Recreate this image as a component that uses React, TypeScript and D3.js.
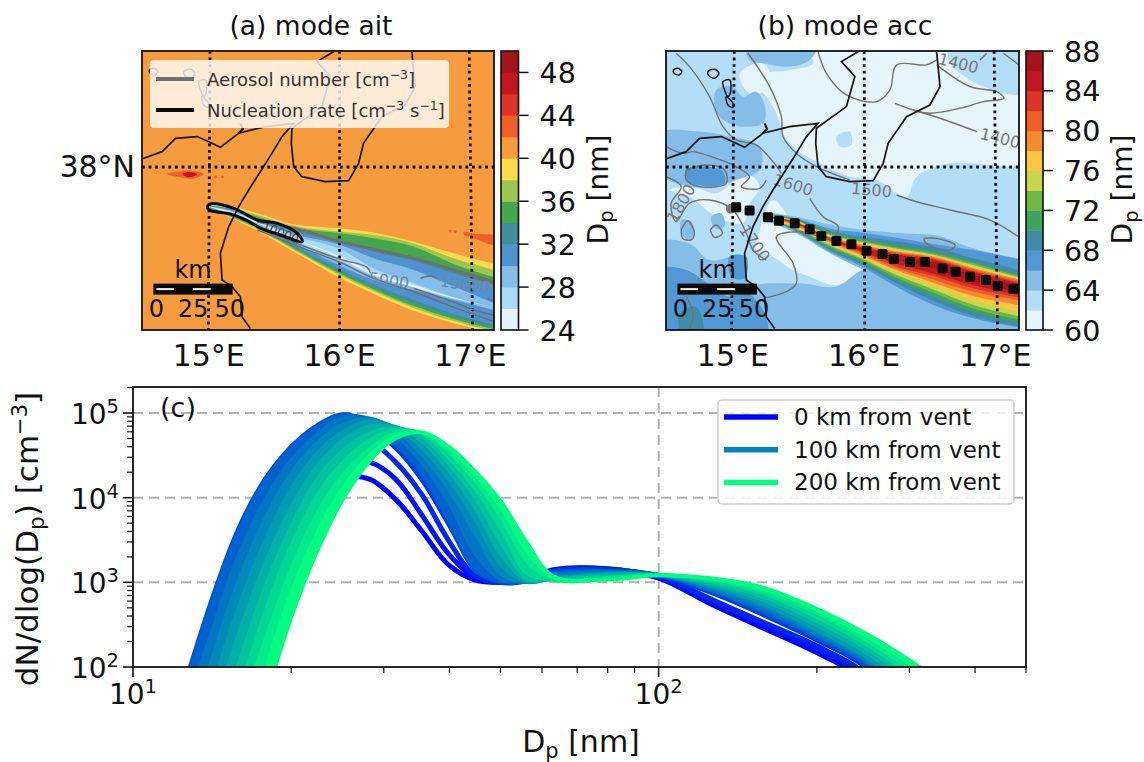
import React from 'react';
import * as d3 from 'd3';

const FONT = '"DejaVu Sans", sans-serif';

// --- maps: shared geography, lon / lat
const lonDomain = [14.49, 17.18];
const latDomain = [36.756, 38.885];
const meridians = [15, 16, 17];
const parallels = [38];

const sicilyCoast = [[14.483,38.059],[14.644,38.117],[14.746,38.219],[14.911,38.232],[15.0,38.193],[15.089,38.15],[15.229,38.257],[15.433,38.308],[15.649,38.333],[15.56,38.232],[15.483,38.104],[15.394,37.964],[15.305,37.824],[15.229,37.697],[15.153,37.545],[15.089,37.341],[15.102,37.137],[15.178,37.087],[15.242,37.01],[15.254,36.857],[15.318,36.768]];
const calabriaCoast = [[15.954,38.88],[15.827,38.804],[15.929,38.69],[15.865,38.461],[15.636,38.295],[15.631,38.181],[15.649,38.003],[15.712,37.926],[15.891,37.888],[16.069,37.896],[16.145,38.028],[16.183,38.181],[16.323,38.384],[16.501,38.473],[16.578,38.613],[16.552,38.88]];
const milazzo = [[15.242,38.333],[15.26,38.29],[15.229,38.257]];
const islands = [
  [[14.547,38.74],[14.58,38.753],[14.611,38.728],[14.588,38.702],[14.552,38.715]],
  [[14.809,38.728],[14.86,38.746],[14.893,38.715],[14.86,38.677],[14.817,38.697]],
  [[14.924,38.651],[14.975,38.664],[14.982,38.575],[14.962,38.537],[14.936,38.588]],
  [[14.949,38.537],[15,38.486],[15,38.455],[14.962,38.473]],
];

// --- panel (a)
const levelsA = [24,26,28,30,32,34,36,38,40,42,44,46,48,50];
const ticksA = [24,28,32,36,40,44,48];
const colorsA = ['#e3f2fb','#abdaf5','#84bde8','#4e92d0','#3f8f9c','#43a84c','#9cc650','#fbdb4a','#f69c3e','#ef5f28','#dd3428','#c4161f','#a3141a'];

const plumeLonA = [15.015,15.193,15.372,15.651,16.008,16.262,16.567,16.873,17.183];
const yellowUpA = [37.712,37.697,37.646,37.562,37.532,37.499,37.43,37.341,37.26];
const yellowLoA = [37.677,37.601,37.514,37.354,37.15,37.031,36.903,36.807,36.73];
const lgreenUpA = [37.707,37.684,37.634,37.552,37.506,37.481,37.417,37.303,37.214];
const lgreenLoA = [37.679,37.606,37.524,37.366,37.17,37.051,36.924,36.824,36.746];
const greenUpA = [37.705,37.677,37.621,37.539,37.494,37.456,37.392,37.26,37.158];
const greenLoA = [37.682,37.611,37.534,37.377,37.183,37.066,36.939,36.84,36.761];
const tealUpA = [37.702,37.672,37.608,37.519,37.443,37.372,37.303,37.214,37.137];
const tealLoA = [37.684,37.616,37.545,37.387,37.198,37.081,36.959,36.858,36.776];
const blueUpA = [37.7,37.667,37.601,37.506,37.43,37.354,37.285,37.188,37.099];
const blueLoA = [37.687,37.621,37.55,37.397,37.214,37.099,36.985,36.878,36.794];
const mediumUpA = [37.697,37.662,37.59,37.489,37.405,37.303,37.214,37.087,36.959];
const mediumLoA = [37.69,37.626,37.557,37.422,37.244,37.137,37.061,36.985,36.908];
const lightUpA = [37.695,37.656,37.583,37.476,37.372,37.226,37.112,37.005,36.929];
const lightLoA = [37.692,37.636,37.57,37.438,37.285,37.168,37.081,36.995,36.929];
const paleUpA = [37.694,37.651,37.578,37.456,37.316,37.193,37.099,37.003,36.929];
const paleLoA = [37.693,37.639,37.573,37.448,37.303,37.173,37.084,36.998,36.929];

const redBlobWest = [[14.677,37.947],[14.761,37.964],[14.863,37.972],[14.964,37.95],[14.888,37.913],[14.761,37.925]];
const darkBlobWest = [[14.799,37.947],[14.85,37.962],[14.913,37.944],[14.85,37.921]];
const redBlobEast = [[16.95,37.505],[17.03,37.49],[17.2,37.47],[17.2,37.405],[17.03,37.455],[16.95,37.485]];
const speckLon = [15.053,15.104,16.847,16.885];
const speckLat = [37.926,37.926,37.511,37.508];

const aerosolThick = [[15.372,37.583],[15.651,37.532],[16.008,37.43],[16.567,37.303],[16.873,37.214],[17.183,37.112]];
const aerosolLinesA = [
  [[15.372,37.545],[15.702,37.405],[16.008,37.295],[16.211,37.234],[16.237,37.188]],
  [[16.618,37.15],[16.695,37.168],[16.746,37.15]],
  [[15.372,37.519],[15.702,37.387],[16.008,37.27],[16.262,37.15],[16.567,37.048],[16.873,36.929],[17.183,36.819]],
  [[16.567,37.074],[16.873,36.969],[17.025,36.908],[17.183,36.868]],
  [[16.975,37.193],[17.183,37.125]],
  [[17.127,37.0],[17.183,36.975]],
];
const nucleationContour = [[15.015,37.718],[15.193,37.684],[15.372,37.595],[15.524,37.57],[15.677,37.494],[15.715,37.43],[15.55,37.481],[15.397,37.532],[15.295,37.59],[15.168,37.641],[15.015,37.667],[14.99,37.692]];
const labelsA = [
  { text: '5000', lon: 16.377, lat: 37.132, rotate: 8, color: '#6f8aa5', size: 16 },
  { text: '15000', lon: 16.962, lat: 37.104, rotate: 8, color: '#6f8aa5', size: 16 },
  { text: '10000', lon: 15.55, lat: 37.499, rotate: 22, color: '#444', size: 12 },
];

// --- panel (b)
const levelsB = [60,62,64,66,68,70,72,74,76,78,80,82,84,86,88];
const ticksB = [60,64,68,72,76,80,84,88];
const colorsB = ['#e6f4fc','#b4def7','#84bde8','#5198d4','#3f8ca8','#3fa35c','#6cb944','#c6d64e','#fbc640','#f68a30','#ee5f28','#dd3428','#c4161f','#a3141a'];

const palePatchesB = [
  [[15.55,38.96],[16.6,38.96],[16.654,38.791],[16.807,38.664],[17.01,38.575],[17.25,38.499],[17.25,38.041],[16.654,38.028],[16.399,37.926],[16.323,37.774],[16.094,37.901],[15.891,37.926],[15.636,38.041],[15.458,38.155],[15.382,38.257],[15.331,38.41],[15.254,38.537],[15.127,38.69],[15.433,38.74],[15.611,38.791]],
  [[15.204,37.519],[15.305,37.748],[15.483,37.545],[15.687,37.392],[15.992,37.226],[15.789,37.099],[15.585,37.163],[15.433,37.226],[15.305,37.316],[15.178,37.366]],
  [[14.517,37.824],[14.695,37.85],[14.873,37.799],[15.102,37.952],[15.204,37.85],[15.127,37.723],[15.076,37.57],[14.873,37.621],[14.669,37.774]],
  [[15.051,38.715],[15.229,38.791],[15.305,38.613],[15.127,38.562]],
];
const lightPatchesB = [
  [[15.789,38.232],[15.891,38.27],[15.903,38.168],[15.814,38.155]],
];
const mediumPatchesB = [
  [[15.102,38.95],[15.65,38.95],[15.585,38.817],[15.433,38.766],[15.229,38.791],[15.127,38.817]],
  [[14.873,38.422],[15,38.321],[15.229,38.333],[15.242,38.473],[15.178,38.575],[15.076,38.537],[15,38.613],[14.873,38.587]],
  [[14.44,38.257],[14.746,38.27],[14.975,38.232],[15.204,38.155],[15.204,37.977],[15.025,37.901],[14.873,37.85],[14.669,37.85],[14.44,37.952]],
  [[14.44,37.417],[14.669,37.417],[14.822,37.29],[15.076,37.316],[15.127,37.112],[15.254,37.036],[15.433,36.7],[14.44,36.7]],
  [[14.835,37.621],[14.911,37.646],[14.936,37.545],[14.86,37.532]],
  [[14.606,37.595],[14.682,37.583],[14.707,37.468],[14.656,37.443],[14.606,37.494]],
  [[15.102,37.061],[15.483,37.112],[15.789,37.087],[15.992,37.214],[16.298,37.188],[17.25,36.858],[17.25,36.7],[15.305,36.7]],
];
const bluePatchesB = [
  [[14.644,37.977],[14.796,38.003],[14.924,37.964],[14.936,37.875],[14.746,37.86],[14.644,37.901]],
  [[14.44,37.214],[14.644,37.214],[14.975,37.01],[15.076,37.061],[15.229,36.908],[15.254,36.7],[14.44,36.7]],
  [[14.975,37.316],[15.102,37.316],[15.089,37.15],[14.987,37.163]],
];
const tealPatchB = [[14.593,36.883],[14.72,36.934],[14.771,36.7],[14.618,36.7]];

const plumeLonB = [15.229,15.483,15.763,15.992,16.221,16.527,16.832,17.176];
const mediumUpB = [37.659,37.621,37.557,37.519,37.499,37.481,37.379,37.303];
const mediumLoB = [37.595,37.494,37.328,37.214,37.07,36.921,36.82,36.761];
const blueUpB = [37.651,37.608,37.524,37.499,37.463,37.412,37.366,37.295];
const blueLoB = [37.608,37.506,37.341,37.234,37.099,36.947,36.845,36.776];
const tealUpB = [37.646,37.601,37.506,37.468,37.438,37.387,37.303,37.214];
const tealLoB = [37.613,37.514,37.354,37.252,37.125,36.98,36.863,36.786];
const greenUpB = [37.644,37.595,37.494,37.448,37.405,37.354,37.277,37.176];
const greenLoB = [37.616,37.519,37.366,37.27,37.15,37.015,36.896,36.812];
const lgreenUpB = [37.641,37.59,37.481,37.435,37.392,37.341,37.265,37.168];
const lgreenLoB = [37.618,37.524,37.379,37.285,37.168,37.041,36.921,36.837];
const ygreenUpB = [37.639,37.588,37.473,37.425,37.382,37.331,37.252,37.158];
const ygreenLoB = [37.621,37.532,37.392,37.298,37.188,37.066,36.947,36.863];
const amberUpB = [37.636,37.583,37.466,37.417,37.372,37.323,37.239,37.15];
const amberLoB = [37.623,37.539,37.402,37.308,37.206,37.092,36.985,36.896];
const orangeUpB = [37.634,37.58,37.458,37.407,37.361,37.316,37.229,37.142];
const orangeLoB = [37.626,37.55,37.412,37.321,37.221,37.117,37.015,36.947];
const dkorUpB = [37.631,37.578,37.453,37.397,37.354,37.308,37.219,37.132];
const dkorLoB = [37.628,37.557,37.422,37.333,37.234,37.142,37.048,36.985];
const redUpB = [37.631,37.575,37.448,37.387,37.346,37.3,37.209,37.122];
const redLoB = [37.631,37.565,37.43,37.346,37.249,37.168,37.074,37.005];
const red2UpB = [37.631,37.573,37.443,37.379,37.336,37.29,37.196,37.112];
const red2LoB = [37.631,37.567,37.438,37.356,37.27,37.188,37.099,37.023];
const darkUpB = [37.631,37.57,37.44,37.366,37.303,37.27,37.176,37.097];
const darkLoB = [37.631,37.57,37.44,37.366,37.298,37.226,37.132,37.048];

const aerosolLinesB = [
  [[16.234,38.486],[16.374,38.435],[16.578,38.372],[16.858,38.27]],
  [[15.649,38.88],[15.712,38.715],[15.865,38.55],[16.094,38.499],[16.196,38.588],[16.247,38.779],[16.476,38.779],[16.552,38.817]],
  [[16.552,38.779],[16.807,38.613],[17.01,38.575],[17.066,38.524],[16.908,38.499],[16.73,38.448],[16.501,38.41],[16.374,38.435]],
  [[17.061,38.868],[17.181,38.779]],
  [[16.883,38.817],[16.934,38.868]],
  [[16.247,37.786],[16.399,37.735],[16.654,37.672],[16.959,37.595],[17.176,37.468]],
  [[15.891,37.901],[15.636,38.003],[15.483,38.104],[15.382,38.232],[15.369,38.384],[15.28,38.613],[15.115,38.868]],
  [[15.585,37.761],[15.687,37.621],[15.802,37.545],[15.763,37.455],[15.509,37.506],[15.331,37.468],[15.458,37.265],[15.483,37.112],[15.407,37.048],[15.229,36.997]],
  [[14.567,38.868],[14.669,38.766],[14.822,38.537],[14.924,38.308],[15.025,38.206],[15.178,38.168],[15.305,38.041],[15.369,37.952]],
  [[14.491,38.155],[14.618,38.104],[14.695,38.117],[14.873,38.066],[15,38.015],[15.127,37.926],[15.064,37.85],[15.204,37.837],[15.254,37.901]],
  [[14.491,37.926],[14.606,37.85],[14.529,37.723],[14.567,37.583],[14.669,37.723],[14.822,37.748],[15,37.672],[15.102,37.494],[15.153,37.366],[15.254,37.29]],
  [[14.606,37.519],[14.656,37.59],[14.707,37.494],[14.682,37.443],[14.618,37.455],[14.606,37.519]],
  [[14.827,37.519],[14.873,37.557],[14.919,37.494],[14.86,37.463],[14.827,37.519]],
  [[14.644,37.977],[14.796,38.015],[14.936,37.977],[14.949,37.875],[14.746,37.85],[14.644,37.901],[14.644,37.977]],
  [[14.644,37.01],[14.695,36.883],[14.669,36.756]],
  [[16.455,37.455],[16.552,37.455],[16.692,37.405],[16.667,37.372],[16.552,37.379],[16.463,37.43],[16.455,37.455]],
];
const labelsB = [
  { text: '1400', lon: 16.718, lat: 38.791, rotate: 14, color: '#777', size: 16 },
  { text: '1400', lon: 17.036, lat: 38.219, rotate: 14, color: '#777', size: 16 },
  { text: '1500', lon: 16.056, lat: 37.824, rotate: 5, color: '#777', size: 16 },
  { text: '1600', lon: 15.458, lat: 37.863, rotate: 17, color: '#777', size: 16 },
  { text: '1700', lon: 15.165, lat: 37.417, rotate: 55, color: '#777', size: 16 },
  { text: '1800', lon: 14.606, lat: 37.723, rotate: -60, color: '#777', size: 16 },
];
const trackLon = [15.025,15.127,15.267,15.351,15.471,15.585,15.674,15.789,15.903,16.018,16.14,16.226,16.349,16.463,16.598,16.697,16.807,16.929,17.018,17.137];
const trackLat = [37.692,37.667,37.616,37.59,37.57,37.524,37.473,37.435,37.41,37.361,37.336,37.298,37.275,37.275,37.226,37.201,37.163,37.137,37.092,37.071];

const scaleBarKm = [0, 25, 50];

// --- panel (c)
const diameters = [12.6,14.1,15.8,17.8,20,22.4,25.1,28.2,31.6,35.5,39.8,44.7,50.1,56.2,63.1,79.4,100,126,158,200,251,316];
// log10 of dN/dlog(Dp), one row per distance from the vent
const logSpectra = [
  [1.0,1.95,2.8,3.4,3.85,4.12,4.24,4.22,3.98,3.6,3.21,3.03,3.0,3.04,3.15,3.16,3.05,2.74,2.46,2.17,1.8,0.9],
  [0.9,1.85,2.75,3.45,3.98,4.25,4.42,4.42,4.22,3.79,3.34,3.06,3.0,3.03,3.14,3.16,3.06,2.77,2.5,2.21,1.84,0.92],
  [0.8,1.75,2.7,3.5,4.05,4.4,4.55,4.65,4.42,4.03,3.5,3.08,3.0,3.03,3.13,3.15,3.07,2.8,2.53,2.25,1.88,0.95],
  [0.9,1.9,2.85,3.65,4.25,4.58,4.72,4.8,4.59,4.21,3.7,3.18,3.0,3.02,3.13,3.15,3.08,2.88,2.62,2.32,1.97,1.2],
  [1.85,2.8,3.62,4.22,4.61,4.86,4.99,4.88,4.62,4.26,3.72,3.14,3.0,3.02,3.12,3.14,3.09,2.89,2.64,2.34,2.0,1.25],
  [1.5,2.46,3.33,4.0,4.47,4.77,4.96,4.93,4.72,4.38,3.92,3.32,3.02,3.01,3.1,3.13,3.09,2.9,2.67,2.36,2.02,1.3],
  [1.16,2.13,3.03,3.78,4.32,4.67,4.88,4.94,4.78,4.48,4.08,3.55,3.08,3.0,3.08,3.12,3.09,2.92,2.7,2.39,2.05,1.45],
  [0.8,1.78,2.72,3.52,4.14,4.55,4.8,4.92,4.82,4.56,4.2,3.72,3.18,3.0,3.06,3.11,3.09,2.94,2.73,2.42,2.08,1.55],
  [0.45,1.43,2.4,3.25,3.92,4.4,4.7,4.86,4.84,4.64,4.3,3.85,3.3,3.01,3.05,3.1,3.09,2.96,2.77,2.47,2.13,1.65],
  [0.1,1.1,2.05,2.98,3.7,4.25,4.58,4.78,4.83,4.7,4.38,3.98,3.44,3.03,3.04,3.09,3.09,2.98,2.81,2.52,2.18,1.72],
  [-0.2,0.8,1.72,2.68,3.48,4.05,4.45,4.7,4.81,4.74,4.45,4.08,3.6,3.08,3.03,3.07,3.09,3.0,2.85,2.57,2.23,1.8],
  [-0.5,0.5,1.4,2.35,3.2,3.85,4.3,4.6,4.78,4.76,4.52,4.18,3.74,3.22,3.03,3.05,3.09,3.02,2.88,2.62,2.28,1.87],
  [-0.8,0.2,1.05,2.0,2.92,3.62,4.15,4.52,4.74,4.77,4.57,4.25,3.86,3.34,3.04,3.04,3.09,3.04,2.91,2.66,2.33,1.93],
  [-1.1,-0.1,0.7,1.6,2.58,3.36,3.98,4.43,4.7,4.77,4.61,4.32,3.96,3.47,3.07,3.03,3.08,3.05,2.94,2.69,2.38,1.99],
];
const legendDistances = [0, 100, 200];
const xMajor = [10, 100];
const xMinor = [20,30,40,50,60,70,80,90,200,300,400,500];
const yMajor = [100, 1000, 10000, 100000];
const yExponents = [2, 3, 4, 5];
const yMinor = [200,300,400,500,600,700,800,900,2000,3000,4000,5000,6000,7000,8000,9000,20000,30000,40000,50000,60000,70000,80000,90000,200000];

const winter = (t: number) => `rgb(0,${Math.round(t * 255)},${Math.round(255 - t * 127.5)})`;

const Sub = ({ size }: { size: number }) => (
  <tspan fontSize={size * 0.7} dy={size * 0.2}>p</tspan>
);

function ColorBar({ x, width, top, bottom, levels, ticks, colors }: any) {
  const y = d3.scaleLinear().domain([levels[0], levels[levels.length - 1]]).range([bottom, top]);
  return (
    <g>
      {colors.map((c: string, i: number) => (
        <rect key={i} x={x} width={width} y={y(levels[i + 1])} height={y(levels[i]) - y(levels[i + 1]) + 0.5} fill={c} />
      ))}
      <rect x={x} y={top} width={width} height={bottom - top} fill="none" stroke="#111" strokeWidth={1.6} />
      {ticks.map((t: number) => (
        <g key={t}>
          <line x1={x + width} x2={x + width + 10} y1={y(t)} y2={y(t)} stroke="#111" strokeWidth={1.5} />
          <text x={x + width + 21} y={y(t) + 10.5} fontSize={28.5}>{t}</text>
        </g>
      ))}
      <text transform={`translate(${x + width + 89},${(top + bottom) / 2 - 1}) rotate(-90)`} textAnchor="middle" fontSize={28}>
        D<Sub size={28} /><tspan dy={-5.6}> [nm]</tspan>
      </text>
    </g>
  );
}

function MapPanel({ id, left, right, title, titleX, base, children, over, tilt }: any) {
  const top = 51, bottom = 330;
  const x = d3.scaleLinear().domain(lonDomain).range([left, right]);
  const y = d3.scaleLinear().domain(latDomain).range([bottom, top]);
  const line = d3.line().x((d: any) => x(d[0])).y((d: any) => y(d[1]));
  const soft = d3.line().x((d: any) => x(d[0])).y((d: any) => y(d[1])).curve(d3.curveCatmullRom.alpha(0.5));
  const blob = d3.line().x((d: any) => x(d[0])).y((d: any) => y(d[1])).curve(d3.curveCatmullRomClosed.alpha(0.5));
  const kmX = d3.scaleLinear().domain([0, 50]).range([x(14.6), x(15.16)]);
  const coasts = [sicilyCoast, calabriaCoast];
  return (
    <g>
      <text x={titleX} y={35} textAnchor="middle" fontSize={26.5}>{title}</text>
      <clipPath id={id}><rect x={left} y={top} width={right - left} height={bottom - top} /></clipPath>
      <g clipPath={`url(#${id})`}>
        <rect x={left} y={top} width={right - left} height={bottom - top} fill={base} />
        {children({ x, y, soft, blob })}
        {coasts.map((c, i) => (
          <path key={i} d={line(c as any) as string} fill="none" stroke="#161616" strokeWidth={1.7} />
        ))}
        <path d={line(milazzo as any) as string} fill="none" stroke="#161616" strokeWidth={2.2} />
        {islands.map((c, i) => (
          <path key={i} d={blob(c as any) as string} fill="none" stroke="#161616" strokeWidth={1.5} />
        ))}
        {meridians.map((m, i) => (
          <line key={m} x1={x(m + tilt[i][0])} x2={x(m + tilt[i][1])} y1={top} y2={bottom}
            stroke="#0d0d1a" strokeWidth={2.8} strokeDasharray="2.8 3.8" />
        ))}
        {parallels.map((p) => (
          <line key={p} x1={left} x2={right} y1={y(p)} y2={y(p)} stroke="#0d0d1a" strokeWidth={2.8} strokeDasharray="2.8 3.8" />
        ))}
        {over && over({ x, y, soft, blob })}
        <rect x={kmX(0) - 3} y={y(37.11)} width={kmX(50) - kmX(0) + 6} height={11} fill="#0a0a0a" />
        {[0, 25].map((km) => (
          <rect key={km} x={kmX(km)} y={y(37.11) + 4.5} width={kmX(km + 12) - kmX(km)} height={2} fill="#f4f0e0" />
        ))}
        <text x={kmX(25)} y={278} textAnchor="middle" fontSize={24} fill="#111">km</text>
        {scaleBarKm.map((km) => (
          <text key={km} x={kmX(km)} y={317} textAnchor="middle" fontSize={24} fill="#111">{km}</text>
        ))}
      </g>
      <rect x={left} y={top} width={right - left} height={bottom - top} fill="none" stroke="#111" strokeWidth={1.8} />
      {meridians.map((m) => (
        <text key={m} x={x(m)} y={366} textAnchor="middle" fontSize={30}>{m}°E</text>
      ))}
    </g>
  );
}

function ContourLabels({ items, x, y }: any) {
  return items.map((l: any, i: number) => (
    <text key={i} transform={`translate(${x(l.lon)},${y(l.lat)}) rotate(${l.rotate})`} textAnchor="middle"
      dominantBaseline="central" fontSize={l.size} fill={l.color}>{l.text}</text>
  ));
}

function Bands({ lon, bands, x, y }: any) {
  return bands.map((b: any, i: number) => {
    const area = d3.area()
      .x((_: any, k: number) => x(lon[k]))
      .y0((_: any, k: number) => y(b.lower[k]))
      .y1((_: any, k: number) => y(b.upper[k]))
      .curve(d3.curveMonotoneX);
    return <path key={i} d={area(lon) as string} fill={b.color} />;
  });
}

const plumeBandsA = [
  { color: colorsA[7], upper: yellowUpA, lower: yellowLoA },
  { color: colorsA[6], upper: lgreenUpA, lower: lgreenLoA },
  { color: colorsA[5], upper: greenUpA, lower: greenLoA },
  { color: colorsA[4], upper: tealUpA, lower: tealLoA },
  { color: colorsA[3], upper: blueUpA, lower: blueLoA },
  { color: colorsA[2], upper: mediumUpA, lower: mediumLoA },
  { color: colorsA[1], upper: lightUpA, lower: lightLoA },
  { color: colorsA[0], upper: paleUpA, lower: paleLoA },
];
const plumeBandsB = [
  { color: colorsB[2], upper: mediumUpB, lower: mediumLoB },
  { color: colorsB[3], upper: blueUpB, lower: blueLoB },
  { color: colorsB[4], upper: tealUpB, lower: tealLoB },
  { color: colorsB[5], upper: greenUpB, lower: greenLoB },
  { color: colorsB[6], upper: lgreenUpB, lower: lgreenLoB },
  { color: colorsB[7], upper: ygreenUpB, lower: ygreenLoB },
  { color: colorsB[8], upper: amberUpB, lower: amberLoB },
  { color: colorsB[9], upper: orangeUpB, lower: orangeLoB },
  { color: colorsB[10], upper: dkorUpB, lower: dkorLoB },
  { color: colorsB[11], upper: redUpB, lower: redLoB },
  { color: colorsB[12], upper: red2UpB, lower: red2LoB },
  { color: colorsB[13], upper: darkUpB, lower: darkLoB },
];

function SpectraPanel() {
  const left = 133, right = 1026, top = 387, bottom = 667;
  const x = d3.scaleLog().domain([10, 500]).range([left, right]);
  const y = d3.scaleLog().domain([100, 203000]).range([bottom, top]);
  const curve = d3.curveCatmullRom.alpha(0.5);
  const line = d3.line<number>()
    .x((_, i) => x(diameters[i]))
    .y((d) => y(Math.pow(10, d)))
    .curve(curve);
  const n = logSpectra.length;
  return (
    <g>
      {[1000, 10000, 100000].map((v) => (
        <line key={v} x1={left} x2={right} y1={y(v)} y2={y(v)} stroke="#b2b2b2" strokeWidth={2} strokeDasharray="10 6" />
      ))}
      <line x1={x(100)} x2={x(100)} y1={top} y2={bottom} stroke="#b2b2b2" strokeWidth={2} strokeDasharray="10 6" />
      <clipPath id="specClip"><rect x={left} y={top} width={right - left} height={bottom - top} /></clipPath>
      <g clipPath="url(#specClip)">
        {logSpectra.map((row, i) => {
          const t = i / (n - 1);
          const area = d3.area<number>()
            .x((_, k) => x(diameters[k]))
            .y0((d) => y(Math.pow(10, d)))
            .y1((_, k) => y(Math.pow(10, logSpectra[i - 1][k])))
            .curve(curve);
          return (
            <g key={i}>
              {i > 3 && <path d={area(row) as string} fill={winter(t)} stroke={winter(t)} strokeWidth={0.8} />}
              <path d={line(row) as string} fill="none" stroke={winter(t)} strokeWidth={i < 4 ? 5 : 3.5} />
            </g>
          );
        })}
      </g>
      <rect x={left} y={top} width={right - left} height={bottom - top} fill="none" stroke="#111" strokeWidth={1.8} />
      {xMajor.map((v, i) => (
        <g key={v}>
          <line x1={x(v)} x2={x(v)} y1={bottom} y2={bottom + 10} stroke="#111" strokeWidth={1.6} />
          <text x={x(v)} y={704} textAnchor="middle" fontSize={28}>10<tspan fontSize={19.5} dy={-11}>{i + 1}</tspan></text>
        </g>
      ))}
      {xMinor.map((v) => (
        <line key={v} x1={x(v)} x2={x(v)} y1={bottom} y2={bottom + 6} stroke="#111" strokeWidth={1.2} />
      ))}
      {yMajor.map((v, i) => (
        <g key={v}>
          <line x1={left - 10} x2={left} y1={y(v)} y2={y(v)} stroke="#111" strokeWidth={1.6} />
          <text x={119} y={y(v) + 11} textAnchor="end" fontSize={28}>10<tspan fontSize={19.5} dy={-11}>{yExponents[i]}</tspan></text>
        </g>
      ))}
      {yMinor.map((v) => (
        <line key={v} x1={left - 6} x2={left} y1={y(v)} y2={y(v)} stroke="#111" strokeWidth={1.2} />
      ))}
      <text x={160} y={417} fontSize={27}>(c)</text>
      <text x={581} y={752} textAnchor="middle" fontSize={30}>D<Sub size={30} /><tspan dy={-6}> [nm]</tspan></text>
      <text transform="translate(38,539) rotate(-90)" textAnchor="middle" fontSize={31}>
        dN/dlog(D<Sub size={31} /><tspan dy={-6.2}>) [cm</tspan><tspan fontSize={21} dy={-11}>−3</tspan><tspan dy={11}>]</tspan>
      </text>
      <rect x={718} y={400} width={296} height={104} rx={4} fill="#fff" fillOpacity={0.8} stroke="#ccc" strokeWidth={1.5} />
      {legendDistances.map((km, i) => (
        <g key={km}>
          <line x1={724} x2={778} y1={417 + i * 32.7} y2={417 + i * 32.7} stroke={winter(i / 2)} strokeWidth={5.5} />
          <text x={794} y={425 + i * 32.7} fontSize={23}>{km} km from vent</text>
        </g>
      ))}
    </g>
  );
}

export default function App() {
  return (
    <svg width={1144} height={762} style={{ position: 'absolute', left: 0, top: 0, background: '#fff' }} fontFamily={FONT} fill="#111">
      <MapPanel id="mapA" left={142} right={494} title="(a) mode ait" titleX={311} base={colorsA[8]}
        tilt={[[0.01, -0.002], [0, 0], [-0.01, 0.016]]}
        over={({ x, y, soft, blob }: any) => (
          <g>
            <path d={soft(aerosolThick)} fill="none" stroke="#707070" strokeWidth={3} />
            {aerosolLinesA.map((c, i) => (
              <path key={i} d={soft(c)} fill="none" stroke="#6e6e6e" strokeWidth={1.4} />
            ))}
            <ContourLabels items={labelsA} x={x} y={y} />
            <path d={blob(nucleationContour)} fill="none" stroke="#0a0a0a" strokeWidth={3} />
            <rect x={150} y={60} width={299} height={68} rx={4} fill="#fff" fillOpacity={0.8} />
            <line x1={156} x2={194} y1={79} y2={79} stroke="#707070" strokeWidth={4} />
            <line x1={156} x2={194} y1={110} y2={110} stroke="#0a0a0a" strokeWidth={4} />
            <text x={207} y={86} fontSize={18} fill="#333">Aerosol number [cm<tspan fontSize={12.5} dy={-7}>−3</tspan><tspan dy={7}>]</tspan></text>
            <text x={207} y={117} fontSize={18} fill="#333">Nucleation rate [cm<tspan fontSize={12.5} dy={-7}>−3</tspan><tspan dy={7}> s</tspan><tspan fontSize={12.5} dy={-7}>−1</tspan><tspan dy={7}>]</tspan></text>
          </g>
        )}>
        {({ x, y, blob }: any) => (
          <g>
            <Bands lon={plumeLonA} bands={plumeBandsA} x={x} y={y} />
            <path d={blob(redBlobWest)} fill={colorsA[9]} />
            <path d={blob(darkBlobWest)} fill={colorsA[11]} />
            <path d={blob(redBlobEast)} fill={colorsA[9]} />
            {speckLon.map((lon, i) => (
              <circle key={i} cx={x(lon)} cy={y(speckLat[i])} r={1.5} fill={colorsA[9]} />
            ))}
          </g>
        )}
      </MapPanel>
      <text x={135} y={177} textAnchor="end" fontSize={30}>38°N</text>
      <ColorBar x={501} width={17.5} top={51} bottom={330} levels={levelsA} ticks={ticksA} colors={colorsA} />

      <MapPanel id="mapB" left={666} right={1019} title="(b) mode acc" titleX={845} base={colorsB[1]}
        tilt={[[0.01, -0.01], [0, 0.005], [-0.01, 0.016]]}
        over={({ x, y }: any) => (
          <g>
            <circle cx={x(14.985)} cy={y(37.682)} r={5} fill="#777" />
            {trackLon.map((lon, i) => (
              <rect key={i} x={x(lon) - 5} y={y(trackLat[i]) - 5} width={10} height={10} rx={1.5} fill="#0a0a0a" />
            ))}
          </g>
        )}>
        {({ x, y, soft, blob }: any) => (
          <g>
            {palePatchesB.map((c, i) => <path key={i} d={blob(c)} fill={colorsB[0]} />)}
            {mediumPatchesB.map((c, i) => <path key={i} d={blob(c)} fill={colorsB[2]} />)}
            {lightPatchesB.map((c, i) => <path key={i} d={blob(c)} fill={colorsB[1]} />)}
            {bluePatchesB.map((c, i) => <path key={i} d={blob(c)} fill={colorsB[3]} />)}
            <path d={blob(tealPatchB)} fill={colorsB[4]} />
            <Bands lon={plumeLonB} bands={plumeBandsB} x={x} y={y} />
            {aerosolLinesB.map((c, i) => (
              <path key={i} d={soft(c)} fill="none" stroke="#727272" strokeWidth={1.4} />
            ))}
            <ContourLabels items={labelsB} x={x} y={y} />
          </g>
        )}
      </MapPanel>
      <ColorBar x={1026} width={17} top={51} bottom={330} levels={levelsB} ticks={ticksB} colors={colorsB} />

      <SpectraPanel />
    </svg>
  );
}
